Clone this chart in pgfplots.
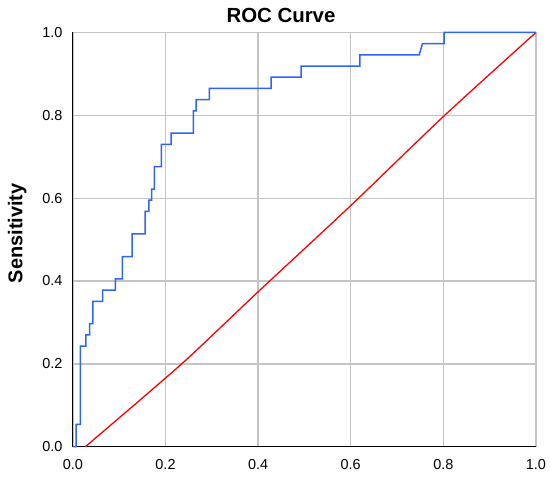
\documentclass[border=0pt]{standalone}
\usepackage{pgfplots}
\pgfplotsset{compat=1.18}
\usepackage{fontspec}
\setmainfont{Liberation Sans}
\definecolor{rocblue}{RGB}{45,100,250}
\definecolor{gridgray}{RGB}{196,196,196}
\begin{document}
\begin{tikzpicture}
\path[use as bounding box] (-72.9bp,-35.3bp) rectangle (477.1bp,446.7bp);
\begin{axis}[
  at={(0,0)}, anchor=south west,
  scale only axis,
  width=463bp, height=414.2bp,
  xmin=0, xmax=1, ymin=0, ymax=1,
  xtick={0,0.2,0.4,0.6,0.8,1.0},
  ytick={0,0.2,0.4,0.6,0.8,1.0},
  xticklabels={0.0,0.2,0.4,0.6,0.8,1.0},
  yticklabels={0.0,0.2,0.4,0.6,0.8,1.0},
  major tick length=0pt,
  grid=major,
  major grid style={draw=gridgray, line width=1.3bp},
  axis line style={draw=none},
  /pgf/number format/assume math mode=true,
  ticklabel style={font=\fontsize{14.5}{16}\selectfont, inner sep=0pt},
  xticklabel style={anchor=north, yshift=-12.3bp},
  yticklabel style={anchor=east, xshift=-10.3bp},
  clip=false,
]
% axis lines: left and bottom black
\addplot[black, line width=1.2bp, forget plot] coordinates {(0,1) (0,0) (1,0)};
% reference line
\addplot[red, line width=1.3bp, smooth, tension=0.4] coordinates {
(0.027,0) (0.235,0.2) (0.4,0.374) (0.6,0.582) (0.8,0.797) (1,1)};
% ROC curve
\addplot[rocblue, line width=1.5bp] coordinates {
(0,0) (0.007,0) (0.007,0.054) (0.016,0.054) (0.016,0.243) (0.028,0.243)
(0.028,0.270) (0.036,0.270) (0.036,0.297) (0.043,0.297) (0.043,0.351)
(0.064,0.351) (0.064,0.378) (0.092,0.378) (0.092,0.405) (0.107,0.405)
(0.107,0.459) (0.128,0.459) (0.128,0.514) (0.156,0.514) (0.156,0.568)
(0.164,0.568) (0.164,0.595) (0.170,0.595) (0.170,0.622) (0.176,0.622)
(0.176,0.676) (0.191,0.676) (0.191,0.730) (0.212,0.730) (0.212,0.757)
(0.260,0.757) (0.260,0.811) (0.266,0.811) (0.266,0.838) (0.295,0.838)
(0.295,0.865) (0.428,0.865) (0.428,0.892) (0.493,0.892) (0.493,0.919)
(0.620,0.919) (0.620,0.946) (0.748,0.946) (0.755,0.973) (0.802,0.973)
(0.802,1) (1,1)};
\end{axis}
\node[anchor=base, inner sep=0pt, font=\fontsize{20.5}{22}\selectfont\bfseries] at (208.1bp,424bp) {ROC Curve};
\node[anchor=base, inner sep=0pt, rotate=90, font=\fontsize{20}{22}\selectfont\bfseries] at (-50.4bp,213.4bp) {Sensitivity};
\end{tikzpicture}
\end{document}
